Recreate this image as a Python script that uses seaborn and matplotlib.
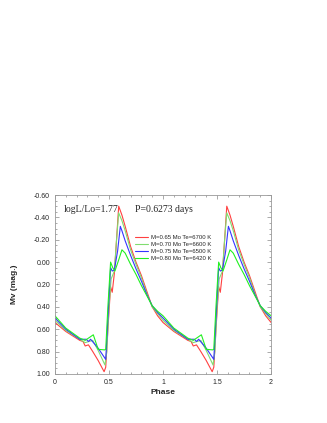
import numpy as np
import pandas as pd
import matplotlib
matplotlib.use("Agg")
import matplotlib.pyplot as plt
import seaborn as sns

# ==========================================
# DATA (one pulsation cycle, phase 0 -> 1)
# ==========================================
labels = [
    "M=0.65 Mo Te=6700 K",
    "M=0.70 Mo Te=6600 K",
    "M=0.75 Mo Te=6500 K",
    "M=0.80 Mo Te=6420 K",
]
line_colors = ["#ff4040", "#80dd70", "#3535ff", "#20f020"]

phase_065 = [0.00, 0.10, 0.23, 0.26, 0.28, 0.31, 0.35, 0.40, 0.455, 0.47, 0.49, 0.515, 0.53, 0.55,
             0.57, 0.59, 0.62, 0.65, 0.70, 0.75, 0.80, 0.85, 0.90, 0.95, 1.00]
mv_065 = [0.54, 0.62, 0.70, 0.71, 0.75, 0.74, 0.80, 0.88, 0.98, 0.94, 0.60, 0.22, 0.27, 0.10,
          -0.20, -0.50, -0.42, -0.32, -0.14, 0.00, 0.12, 0.26, 0.40, 0.48, 0.54]

phase_070 = [0.00, 0.10, 0.23, 0.28, 0.35, 0.40, 0.463, 0.48, 0.50, 0.52, 0.55,
             0.57, 0.59, 0.62, 0.65, 0.70, 0.75, 0.80, 0.85, 0.90, 0.95, 1.00]
mv_070 = [0.52, 0.61, 0.69, 0.72, 0.70, 0.79, 0.92, 0.80, 0.40, 0.15, 0.08,
          -0.20, -0.44, -0.37, -0.28, -0.11, 0.02, 0.14, 0.28, 0.40, 0.46, 0.52]

phase_075 = [0.00, 0.10, 0.23, 0.29, 0.31, 0.33, 0.40, 0.47, 0.49, 0.515, 0.53, 0.55,
             0.58, 0.605, 0.62, 0.65, 0.70, 0.75, 0.80, 0.85, 0.90, 0.95, 1.00]
mv_075 = [0.50, 0.60, 0.69, 0.69, 0.71, 0.69, 0.77, 0.87, 0.50, 0.05, 0.08, 0.07,
          -0.10, -0.32, -0.28, -0.19, -0.06, 0.06, 0.17, 0.29, 0.39, 0.45, 0.50]

phase_080 = [0.00, 0.10, 0.23, 0.28, 0.355, 0.40, 0.46, 0.47, 0.49, 0.515, 0.535, 0.555,
             0.59, 0.62, 0.65, 0.70, 0.75, 0.80, 0.85, 0.90, 0.95, 1.00]
mv_080 = [0.48, 0.59, 0.68, 0.70, 0.65, 0.78, 0.785, 0.78, 0.40, 0.00, 0.05, 0.08,
          -0.02, -0.11, -0.08, 0.02, 0.11, 0.21, 0.30, 0.39, 0.44, 0.48]

phases = [phase_065, phase_070, phase_075, phase_080]
mags = [mv_065, mv_070, mv_075, mv_080]

# build long table covering two cycles
rows = []
for lab, ph, mv in zip(labels, phases, mags):
    for cycle in [0, 1]:
        for p, m in zip(ph, mv):
            if cycle == 1 and p == 0.0:
                continue
            rows.append((lab, p + cycle, m))
df = pd.DataFrame(rows, columns=["model", "phase", "mv"])

# ==========================================
# PLOT
# ==========================================
sns.set_style("ticks")
plt.rcParams["font.family"] = ["Liberation Sans", "DejaVu Sans"]

fig = plt.figure(figsize=(3.27, 4.23), dpi=100)
ax = fig.add_axes([0.168, 0.116, 0.661, 0.423])

sns.lineplot(
    data=df, x="phase", y="mv", hue="model", palette=line_colors,
    hue_order=labels, sort=False, estimator=None, linewidth=0.8, ax=ax,
)

ax.set_xlim(0, 2)
ax.set_ylim(1.0, -0.6)
ax.set_xticks([0, 0.5, 1, 1.5, 2])
ax.set_xticklabels(["0", "0.5", "1", "1.5", "2"])
ax.set_yticks(np.arange(-0.6, 1.01, 0.2))
ax.set_yticklabels([f"{v:.2f}" for v in np.arange(-0.6, 1.01, 0.2)])
ax.minorticks_on()
ax.tick_params(which="both", direction="in", top=True, right=True,
               labelsize=5, color="#888888", width=0.5)
ax.tick_params(which="major", length=3)
ax.tick_params(which="minor", length=1.5)
for s in ax.spines.values():
    s.set_color("#999999")
    s.set_linewidth(0.6)

ax.set_xlabel("Phase", fontsize=6, fontweight="bold", labelpad=2)
ax.set_ylabel("Mv (mag.)", fontsize=6, fontweight="bold", labelpad=11.5)

ax.text(0.04, 0.92, "logL/Lo=1.77", transform=ax.transAxes,
        fontsize=7, family="Liberation Serif", va="center")
ax.text(0.37, 0.92, "P=0.6273 days", transform=ax.transAxes,
        fontsize=7, family="Liberation Serif", va="center")

leg = ax.legend(loc="upper left", bbox_to_anchor=(0.351, 0.803), frameon=False,
                fontsize=4.3, handlelength=2.2, handletextpad=0.5,
                labelspacing=0.35, borderpad=0.2)

fig.savefig("out.png", dpi=100)
